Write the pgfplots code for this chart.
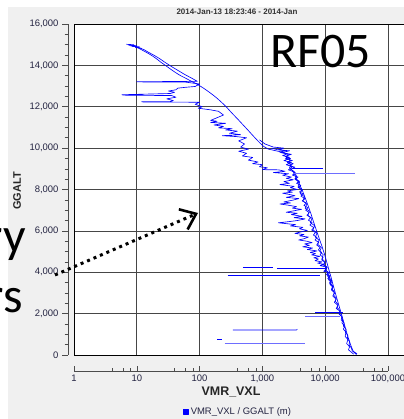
\documentclass[border=0pt]{standalone}
\usepackage{fontspec}
\setmainfont{Liberation Sans}
\newfontfamily\calib{Carlito}
\usepackage{pgfplots}
\pgfplotsset{compat=1.18}
\usetikzlibrary{arrows.meta}
\definecolor{panel}{RGB}{240,240,240}
\definecolor{tickcol}{RGB}{35,35,65}
\definecolor{trace}{RGB}{0,0,255}
\definecolor{tracelt}{RGB}{110,110,255}
\definecolor{gridcol}{RGB}{70,70,70}
\pgfplotsset{tr/.style={trace, no marks, line width=0.65bp, line join=round}}

\begin{document}
\begin{tikzpicture}
\useasboundingbox (0,0) rectangle (404bp,419bp);
\clip (0,0) rectangle (404bp,419bp);
\fill[panel] (8bp,0) rectangle (404bp,412bp);

% plot area with grid and data
\begin{axis}[
  at={(74bp,64bp)}, anchor=south west,
  scale only axis, width=332.8bp, height=331bp,
  xmode=log, xmin=1, xmax=199526, ymin=0, ymax=16000,
  xtick={1,10,100,1000,10000,100000}, ytick={0,2000,...,16000},
  xticklabels={}, yticklabels={}, tick style={draw=none},
  scaled ticks=false,
  grid=major, grid style={gridcol, line width=0.7bp},
  axis line style={black, line width=0.8bp},
  axis background/.style={fill=white},
  legend style={at={(0.493,-0.171)}, anchor=center, draw=none, fill=none,
    font=\fontsize{9.5}{11}\selectfont, text=tickcol},
  legend image code/.code={\fill[trace] (0bp,-2.5bp) rectangle (5bp,2.5bp);},
]
% descent, right-hand trace
\addplot[tr] coordinates {
(7.2,15000) (7.8,14990) (8.5,14960) (9.2,14930) (10,14880) (11,14810) (12.5,14720)
(14,14640) (16,14540) (18.5,14420) (21,14300) (24,14160) (27,14050) (31,13920)
(36,13780) (42,13640) (50,13500) (60,13380) (72,13250) (85,13140) (100,13020)
(118,12880) (140,12720) (165,12560) (195,12380) (230,12180) (265,12000) (300,11820)
(345,11620) (400,11420) (460,11220) (530,11020) (610,10820) (700,10620) (800,10430)
(920,10240) (1050,10080) (1250,9950) (1600,9880) (2100,9800) (2600,9700) (2400,9550)
(2800,9420) (2500,9300) (2900,9180) (2700,9050) (3000,8920) (3300,8700) (3600,8450)
(4000,8180) (4400,7900) (4800,7600) (5300,7250) (5900,6850) (6500,6450) (7200,6050)
(8000,5650) (8900,5250) (9800,4850) (10700,4450) (11500,4100) (12300,3800) (13200,3450)
(14200,3100) (15300,2750) (16600,2380) (18000,2020) (19500,1650) (21200,1250)
(23200,850) (25500,480) (27800,200) (30500,60) (31500,20)
};
\addlegendentry{VMR\_VXL / GGALT (m)}
% blob at the top of the profile
\addplot[tr, forget plot] coordinates {
(6.8,15020) (9,14995) (7.5,14975) (10,14950) (8.5,14925) (11,14900) (9.5,14870) (12,14820)
};
% second trace with excursions
\addplot[tr, forget plot] coordinates {
(8,14940) (9.5,14900) (11,14850) (13,14760) (15,14650) (19,14480) (23,14330) (28,14150)
(35,13960) (45,13760) (58,13560) (75,13380) (92,13230)
(40,13220) (10,13210) (12,13200) (60,13190) (100,13100) (85,12980) (60,12940) (45,12900)
(42,12820) (32,12760) (40,12700) (34,12640) (5.8,12580) (6.2,12560) (36,12540) (42,12460)
(30,12380) (38,12300) (34,12250) (12,12240) (13,12225) (100,12220) (85,12120) (110,12000)
(95,11930) (150,11850) (200,11780) (240,11600) (150,11340) (190,11300) (150,11240)
(260,11200) (170,11120) (240,11050) (200,10980) (330,10940) (260,10880) (400,10820)
(300,10720) (450,10650) (230,10600) (380,10560) (560,10500) (420,10350) (520,10200)
(450,10050) (600,9950) (420,9850) (560,9750) (480,9620) (700,9550) (600,9420) (850,9330)
(700,9250) (1000,9200) (900,9100) (1200,9050) (1000,8960)
(1800,8950) (2300,8880) (1500,8820) (2600,8760) (2100,8690) (2900,8600) (2400,8540)
(3100,8470) (2200,8380) (2700,8300) (1900,8240) (3200,8150) (2800,8090) (3600,8000)
(2500,7930) (3000,7870) (2100,7820) (2700,7760) (3300,7700) (2400,7620) (3800,7560)
(3100,7490) (2200,7400) (2800,7350) (1900,7300) (2600,7240) (3500,7170) (3000,7100)
(4200,7040) (3300,6980) (2400,6900) (3600,6850) (2900,6790) (4300,6700) (3200,6640)
(4800,6580) (3600,6500) (2700,6450) (1800,6390) (2400,6350) (3400,6300) (2800,6240)
(4400,6170) (3900,6100) (5200,6020) (4100,5950) (3300,5880) (4600,5820) (3900,5760)
(5400,5700) (4600,5620) (3800,5560) (5100,5500) (6200,5430) (4700,5370) (5600,5300)
(4400,5230) (6300,5170) (5200,5100) (7400,5030) (5800,4960) (7000,4900) (6100,4840)
(8200,4770) (6600,4700) (7800,4640) (6900,4560) (8900,4500) (7600,4440) (9500,4380)
(8300,4320) (10200,4260)
(10500,4150) (9500,4050) (11500,3980) (10500,3900) (12000,3820) (11000,3700) (12800,3600)
(11800,3450) (13500,3300) (12500,3150) (14200,3000) (13200,2850) (15000,2700) (14000,2550)
(16000,2400) (15000,2250) (17200,2120) (16500,2000) (18000,1880) (19000,1700) (18500,1550)
(20500,1400) (19500,1250) (21500,1100) (20800,900) (23000,750) (22000,550) (24500,400)
(23500,250) (26500,120) (28500,40)
};
% third trace, dense middle section
\addplot[tr, forget plot] coordinates {
(900,10400) (1100,10200) (1500,10050) (2200,10000) (1800,9920) (2700,9870) (2000,9780)
(2900,9700) (2300,9600) (2800,9500) (2200,9400) (2900,9300) (2400,9200) (3000,9100)
(2600,8950) (3200,8850) (3500,8650) (3300,8500) (3900,8350) (3700,8150) (4300,8000)
(4000,7800) (4700,7650) (4400,7450) (5100,7300) (4800,7100) (5600,6950) (5300,6750)
(6200,6600) (5800,6400) (6800,6250) (6400,6050) (7400,5900) (7000,5700) (8000,5550)
(7600,5350) (8700,5200) (8200,5000) (9300,4850) (8900,4650) (10000,4500) (9600,4350)
(10800,4250) (10200,4100) (11600,3950) (11000,3800) (12400,3650) (11800,3500) (13200,3350)
(12700,3200) (14000,3050) (13600,2900) (15000,2750) (14500,2600) (16000,2450) (15500,2300)
(17200,2150) (16800,2000) (18500,1850) (18000,1700) (20000,1550) (19500,1400) (21500,1250)
(21000,1100) (23000,950) (22500,800) (24500,650) (24000,500) (26000,350) (27000,200)
(30500,80) (32000,60) (29000,150)
};
% fourth trace, inside the band
\addplot[tr, forget plot] coordinates {
(1400,10000) (1700,9930) (2300,9880) (1900,9800) (2500,9720) (2100,9640) (2700,9560)
(2300,9480) (3000,9400) (2500,9330) (3100,9250) (2700,9150) (3300,9080) (2800,8980)
(3100,8900) (3400,8780) (3000,8700) (3700,8600) (3300,8520) (3900,8400) (3500,8300)
(4100,8200) (3700,8100) (4300,7980) (3900,7880) (4500,7780) (4100,7680) (4800,7560)
(4300,7450) (5000,7350) (4600,7230) (5300,7120) (4900,7000) (5600,6880) (5100,6760)
(5900,6640) (5400,6520) (6200,6400) (5700,6280) (6600,6160) (6100,6040) (7000,5920)
(6500,5800) (7400,5680) (6900,5560) (7900,5440) (7300,5320) (8300,5200) (7800,5080)
(8800,4960) (8300,4840) (9300,4720) (8800,4600) (9900,4480) (9300,4360) (10500,4240)
(10000,4120) (11200,4000) (10600,3880) (11900,3760) (11300,3640) (12600,3520)
(12000,3400) (13300,3280) (12800,3160) (14000,3040)
};
% horizontal legs
\addplot[tr, forget plot] coordinates {(1700,4200) (10500,4200)};
\addplot[tr, forget plot] coordinates {(490,4250) (1480,4250)};
\addplot[tr, forget plot] coordinates {(280,3870) (8300,3870)};
\addplot[tr, forget plot, tracelt] coordinates {(3100,8800) (30000,8800)};
\addplot[tr, forget plot] coordinates {(2950,9000) (9200,9000)};
\addplot[tr, forget plot] coordinates {(6900,2050) (19000,2050)};
\addplot[tr, forget plot, tracelt] coordinates {(4800,1880) (17500,1880)};
\addplot[tr, forget plot] coordinates {(340,1210) (3500,1210) (3600,1250)};
\addplot[tr, forget plot] coordinates {(190,770) (230,770)};
\addplot[tr, forget plot, tracelt] coordinates {(250,580) (4800,580)};
\end{axis}

% detached y axis
\begin{axis}[
  at={(68bp,64bp)}, anchor=south west,
  scale only axis, width=1bp, height=331bp,
  xmin=0, xmax=1, ymin=0, ymax=16000,
  axis x line=none, axis y line=left, axis line style={-, black!70, line width=0.7bp},
  ytick={0,2000,...,16000}, minor y tick num=3,
  tick align=outside, major tick length=6bp, minor tick length=3.5bp,
  tick style={black!70, line width=0.6bp},
  scaled y ticks=false,
  /pgf/number format/.cd, fixed, 1000 sep={,}, assume math mode=true,
  /pgfplots/.cd,
  yticklabel style={font=\fontsize{9.5}{11}\selectfont, text=tickcol},
]
\end{axis}

% detached x axis
\begin{axis}[
  at={(74bp,48bp)}, anchor=south west,
  scale only axis, width=314bp, height=1bp,
  xmode=log, xmin=1, xmax=100000, ymin=0, ymax=1,
  axis y line=none, axis x line=bottom, axis line style={-, black!70, line width=0.7bp},
  xtick={1,10,100,1000,10000,100000},
  minor xtick={4,6,8,40,60,80,400,600,800,4000,6000,8000,40000,60000,80000},
  tick align=inside, major tick length=5bp, minor tick length=3bp,
  tick style={black!70, line width=0.6bp},
  log ticks with fixed point,
  /pgf/number format/.cd, fixed, 1000 sep={,}, assume math mode=true,
  /pgfplots/.cd,
  xticklabel style={font=\fontsize{9.5}{11}\selectfont, text=tickcol},
]
\end{axis}

% titles and labels
\node[font=\bfseries\fontsize{8}{9}\selectfont, text=black!80] at (237bp,407bp) {2014-Jan-13 18:23:46 - 2014-Jan};
\node[rotate=90, font=\bfseries\fontsize{11}{13}\selectfont, text=black!85] at (17bp,228bp) {GGALT};
\node[font=\bfseries\fontsize{12.5}{14}\selectfont, text=black!85] at (231bp,27bp) {VMR\_VXL};

% slide overlay
\node[anchor=base west, inner sep=0pt, font=\calib\fontsize{50}{55}\selectfont] at (270bp,351bp) {RF05};
\node[anchor=base east, inner sep=0pt, font=\calib\fontsize{50}{55}\selectfont] at (26bp,166bp) {ry};
\node[anchor=base east, inner sep=0pt, font=\calib\fontsize{50}{55}\selectfont] at (23bp,106bp) {rs};
\draw[line width=3bp, dash pattern=on 3bp off 4bp,
  -{Straight Barb[length=14bp, width=22bp, line width=2.6bp]}]
  (55bp,144bp) -- (198bp,206bp);
\end{tikzpicture}
\end{document}
